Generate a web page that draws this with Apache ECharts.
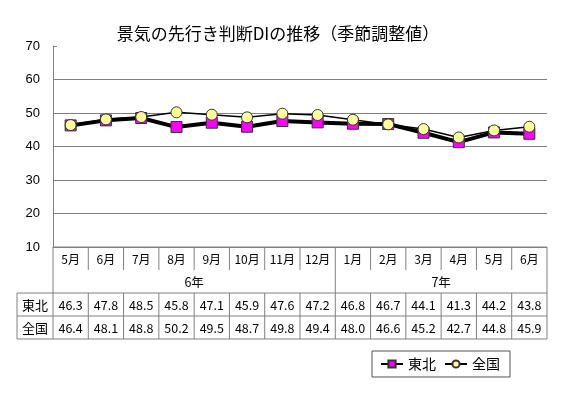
<!DOCTYPE html>
<html><head><meta charset="utf-8">
<script src="https://cdn.jsdelivr.net/npm/echarts@6/dist/echarts.min.js"></script>
<style>html,body{margin:0;padding:0;background:#fff}#c{width:563px;height:393px}</style>
</head><body><div id="c"></div>
<script>
const months = ['5月','6月','7月','8月','9月','10月','11月','12月','1月','2月','3月','4月','5月','6月'];
const yearGroups = [{label:'6年', start:0, end:7},{label:'7年', start:8, end:13}];
const tohoku = [46.3,47.8,48.5,45.8,47.1,45.9,47.6,47.2,46.8,46.7,44.1,41.3,44.2,43.8];
const zenkoku = [46.4,48.1,48.8,50.2,49.5,48.7,49.8,49.4,48.0,46.6,45.2,42.7,44.8,45.9];
const seriesNames = ['東北','全国'];
const yTicks = {min:10, max:70, interval:10};

const FONT = '"Noto Sans CJK JP", "Liberation Sans", sans-serif';
const chart = echarts.init(document.getElementById('c'), null, {renderer:'canvas'});
const GL = 53, GR = 16, GT = 46, GB = 146;
chart.setOption({
  animation:false,
  textStyle:{fontFamily:FONT},
  title:{text:'景気の先行き判断DIの推移（季節調整値）', left:273, textAlign:'center', top:20,
    textStyle:{fontFamily:FONT, fontSize:17, fontWeight:'normal', color:'#000'}},
  grid:{left:GL, right:GR, top:GT, bottom:GB},
  xAxis:{type:'category', data:months, boundaryGap:true,
    axisLine:{show:false}, axisTick:{show:false}, axisLabel:{show:false}},
  yAxis:{type:'value', min:yTicks.min, max:yTicks.max, interval:yTicks.interval,
    axisLine:{show:true, lineStyle:{color:'#808080', width:1}},
    axisTick:{show:true, inside:true, length:4, lineStyle:{color:'#808080'}},
    axisLabel:{color:'#000', fontSize:13, fontFamily:'"Liberation Sans", Arial, sans-serif', margin:13},
    splitLine:{show:true, lineStyle:{color:['#808080','#808080','#808080','#808080','#808080','#808080','rgba(0,0,0,0)'], width:1}}},
  legend:{left:372, top:351, orient:'horizontal', itemGap:8, itemWidth:22, itemHeight:9,
    borderColor:'#555', borderWidth:1, padding:[6,10,6,8],
    textStyle:{fontFamily:FONT, fontSize:14, color:'#000'},
    data:seriesNames},
  series:[
    {name:seriesNames[0], type:'line', data:tohoku, symbol:'rect', symbolSize:11,
      lineStyle:{color:'#000', width:4}, itemStyle:{color:'#FF00FF', borderColor:'#333', borderWidth:1}, z:2},
    {name:seriesNames[1], type:'line', data:zenkoku, symbol:'circle', symbolSize:11,
      lineStyle:{color:'#000', width:1.5}, itemStyle:{color:'#FFFF99', borderColor:'#333', borderWidth:1}, z:3}
  ]
});

// Data table built from chart scale
const cx = months.map((m,i)=>chart.convertToPixel({xAxisIndex:0}, i));
const colW = cx[1]-cx[0];
const x0 = cx[0]-colW/2, xEnd = cx[cx.length-1]+colW/2;
const yTop = chart.convertToPixel({yAxisIndex:0}, yTicks.min);
const rh = 23;
const r1 = yTop+rh, r2 = yTop+2*rh, r3 = yTop+3*rh, r4 = yTop+4*rh;
const labelLeft = 17;
const LC = '#808080';
const els = [];
function line(x1,y1,x2,y2){els.push({type:'line', shape:{x1,y1,x2,y2}, style:{stroke:LC, lineWidth:1}, silent:true});}
function txt(t,x,y,size){els.push({type:'text', x, y, style:{text:t, fill:'#000', font:size+'px '+FONT, textAlign:'center', textVerticalAlign:'middle'}, silent:true});}
line(x0, yTop, xEnd, yTop);
line(labelLeft, r2, xEnd, r2);
line(labelLeft, r3, xEnd, r3);
line(labelLeft, r4, xEnd, r4);
line(labelLeft, r2, labelLeft, r4);
line(x0, yTop, x0, r4);
line(xEnd, yTop, xEnd, r4);
for(let i=1;i<months.length;i++){
  const x = x0+i*colW;
  const isGroup = yearGroups.some(g=>g.start===i);
  line(x, yTop, x, isGroup? r4 : r1);
  if(!isGroup) line(x, r2, x, r4);
}
months.forEach((m,i)=>{
  txt(m, cx[i], yTop+rh/2+1, 12);
  txt(tohoku[i].toFixed(1), cx[i], r2+rh/2+1, 12.5);
  txt(zenkoku[i].toFixed(1), cx[i], r3+rh/2+1, 12.5);
});
yearGroups.forEach(g=>{ txt(g.label, (cx[g.start]+cx[g.end])/2, r1+rh/2+1, 12.5); });
txt(seriesNames[0], (labelLeft+x0)/2, r2+rh/2+1, 13);
txt(seriesNames[1], (labelLeft+x0)/2, r3+rh/2+1, 13);
chart.setOption({graphic:{elements:els}});
</script></body></html>
